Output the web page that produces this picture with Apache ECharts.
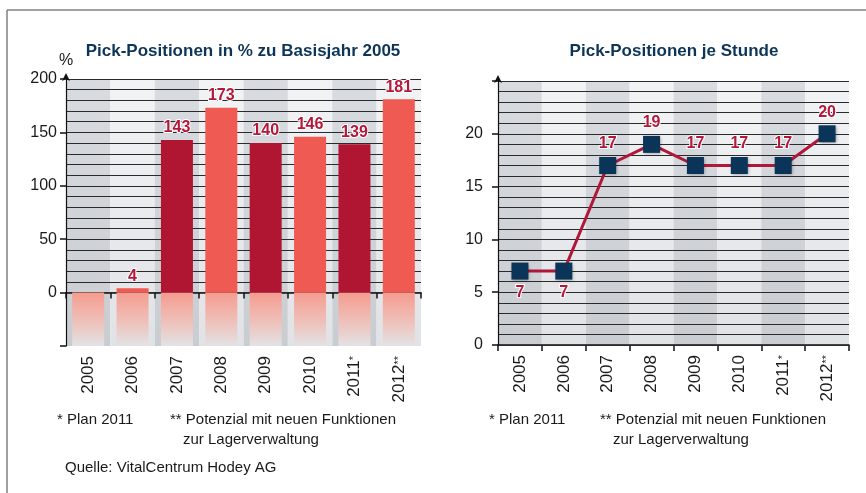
<!DOCTYPE html>
<html>
<head>
<meta charset="utf-8">
<title>Pick-Positionen</title>
<script src="https://cdn.jsdelivr.net/npm/echarts@6/dist/echarts.min.js"></script>
<style>
  html, body { margin: 0; padding: 0; background: #fff; }
  #chart { width: 866px; height: 493px; }
</style>
</head>
<body>
<div id="chart"></div>
<script>
// Daten
const years = ['2005', '2006', '2007', '2008', '2009', '2010', '2011*', '2012**'];
const percentValues = [0, 4, 143, 173, 140, 146, 139, 181];
const perHourValues = [7, 7, 17, 19, 17, 17, 17, 20];

const leftTitle = 'Pick-Positionen in % zu Basisjahr 2005';
const rightTitle = 'Pick-Positionen je Stunde';

const navy = '#0d3557';
const darkRed = '#b01532';
const lightRed = '#ef5a52';
const labelRed = '#b3183a';
const noteFont = '15px "Liberation Sans", Arial, sans-serif';

const chart = echarts.init(document.getElementById('chart'));

// Spaltenhintergrund mit leichtem Verlauf
const band = (top, bottom) => new echarts.graphic.LinearGradient(0, 0, 0, 1, [
    { offset: 0, color: top },
    { offset: 1, color: bottom }
]);
const bands = [band('#d8dbdf', '#c9cdd2'), band('#f2f3f5', '#e0e2e5')];

// Jahreszahlen mit Sternchen
const yearLabel = (v) => {
    const m = v.match(/^(\d+)(\**)$/);
    return m[2] ? m[1] + '{s|' + m[2] + '}' : m[1];
};

const xAxisBase = (gridIndex) => ({
    type: 'category',
    gridIndex: gridIndex,
    data: years,
    boundaryGap: true,
    z: 0,
    axisLine: { lineStyle: { color: '#111', width: 1.5 } },
    axisTick: { show: true, interval: 0, length: 6, lineStyle: { color: '#111', width: 1.5 } },
    axisLabel: {
        interval: 0,
        rotate: 90,
        margin: 10,
        fontSize: 17,
        color: '#1a1a1a',
        formatter: yearLabel,
        rich: { s: { fontSize: 11, color: '#1a1a1a', verticalAlign: 'middle' } }
    },
    splitLine: { show: false },
    splitArea: { show: true, interval: 0, areaStyle: { color: bands } }
});

// Gitterlinien im Abstand von 10 bzw. 1, unterhalb von 0 ausgeblendet
const gridLineColors = (min, max, step) => {
    const colors = [];
    for (let v = min; v <= max; v += step) {
        colors.push(v < 0 ? 'rgba(0,0,0,0)' : '#2a2a2a');
    }
    return colors;
};

const valueAxisLine = {
    show: true,
    symbol: ['none', 'arrow'],
    symbolSize: [6, 8],
    symbolOffset: [0, 6],
    lineStyle: { color: '#111', width: 1.2 }
};

const option = {
    backgroundColor: '#fff',
    animation: false,
    textStyle: { fontFamily: 'Liberation Sans, Arial, sans-serif' },
    title: [
        {
            text: leftTitle,
            left: 238,
            top: 38,
            textAlign: 'center',
            textStyle: { color: navy, fontSize: 17, fontWeight: 'bold' }
        },
        {
            text: rightTitle,
            left: 669,
            top: 38,
            textAlign: 'center',
            textStyle: { color: navy, fontSize: 17, fontWeight: 'bold' }
        }
    ],
    grid: [
        { left: 66, right: 445, top: 79, bottom: 147 },
        { left: 498, right: 17, top: 81, bottom: 148 }
    ],
    xAxis: [xAxisBase(0), xAxisBase(1)],
    yAxis: [
        {
            type: 'value',
            gridIndex: 0,
            min: -50,
            max: 200,
            interval: 50,
            z: 2,
            name: '%',
            nameLocation: 'end',
            nameGap: 10,
            nameTextStyle: { color: '#1a1a1a', fontSize: 16, align: 'center' },
            axisLine: valueAxisLine,
            axisTick: { show: true, length: 6, lineStyle: { color: '#111', width: 1.5 } },
            axisLabel: {
                fontSize: 16,
                color: '#1a1a1a',
                margin: 9,
                formatter: (v) => (v < 0 ? '' : v)
            },
            splitLine: { show: false }
        },
        {
            type: 'value',
            gridIndex: 0,
            position: 'left',
            min: -50,
            max: 200,
            interval: 10,
            z: 1,
            axisLine: { show: false },
            axisTick: { show: false },
            axisLabel: { show: false },
            splitLine: { show: true, lineStyle: { color: gridLineColors(-50, 200, 10), width: 1 } }
        },
        {
            type: 'value',
            gridIndex: 1,
            min: 0,
            max: 25,
            interval: 5,
            z: 2,
            axisLine: valueAxisLine,
            axisTick: { show: true, length: 6, lineStyle: { color: '#111', width: 1.5 } },
            axisLabel: {
                fontSize: 16,
                color: '#1a1a1a',
                margin: 15,
                formatter: (v) => (v >= 25 ? '' : v)
            },
            splitLine: { show: false }
        },
        {
            type: 'value',
            gridIndex: 1,
            position: 'left',
            min: 0,
            max: 25,
            interval: 1,
            z: 1,
            axisLine: { show: false },
            axisTick: { show: false },
            axisLabel: { show: false },
            splitLine: { show: true, lineStyle: { color: '#2a2a2a', width: 1 } }
        }
    ],
    series: [
        {
            name: 'Pick-Positionen %',
            type: 'bar',
            xAxisIndex: 0,
            yAxisIndex: 0,
            stack: 'pct',
            barWidth: 32,
            data: percentValues.map((v, i) => ({
                value: v,
                itemStyle: { color: i % 2 === 0 ? darkRed : lightRed }
            })),
            label: {
                show: true,
                position: 'top',
                distance: 4,
                color: labelRed,
                fontSize: 16,
                fontWeight: 'bold',
                textBorderColor: '#fff',
                textBorderWidth: 2,
                formatter: (p) => (p.value > 0 ? p.value : '')
            },
            z: 3
        },
        {
            // Spiegelung unterhalb der Nulllinie
            name: 'Spiegelung',
            type: 'bar',
            xAxisIndex: 0,
            yAxisIndex: 0,
            stack: 'pct',
            barWidth: 32,
            silent: true,
            data: years.map(() => -50),
            itemStyle: {
                color: new echarts.graphic.LinearGradient(0, 0, 0, 1, [
                    { offset: 0, color: '#f59c8f' },
                    { offset: 0.55, color: '#eec1ba' },
                    { offset: 1, color: '#e2e3e5' }
                ])
            },
            z: 2
        },
        {
            name: 'Pick-Positionen je Stunde',
            type: 'line',
            xAxisIndex: 1,
            yAxisIndex: 2,
            data: perHourValues.map((v, i) => ({
                value: v,
                label: { position: i < 2 ? 'bottom' : 'top' }
            })),
            symbol: 'rect',
            symbolSize: 17,
            itemStyle: {
                color: '#0b3459',
                shadowColor: 'rgba(0,0,0,0.35)',
                shadowBlur: 3,
                shadowOffsetX: 1,
                shadowOffsetY: 1
            },
            lineStyle: { color: '#b0183a', width: 3 },
            label: {
                show: true,
                distance: 5,
                color: labelRed,
                fontSize: 16,
                fontWeight: 'bold',
                textBorderColor: '#fff',
                textBorderWidth: 2
            },
            z: 4
        }
    ],
    graphic: [
        // Rahmen
        { type: 'line', shape: { x1: 7, y1: 10, x2: 866, y2: 10 }, style: { stroke: '#808080', lineWidth: 1.5 } },
        { type: 'line', shape: { x1: 7, y1: 10, x2: 7, y2: 493 }, style: { stroke: '#808080', lineWidth: 1.5 } },
        // Fußnoten
        { type: 'text', left: 57, top: 412, style: { text: '* Plan 2011', font: noteFont, fill: '#1a1a1a' } },
        { type: 'text', left: 170, top: 412, style: { text: '** Potenzial mit neuen Funktionen', font: noteFont, fill: '#1a1a1a' } },
        { type: 'text', left: 183, top: 432, style: { text: 'zur Lagerverwaltung', font: noteFont, fill: '#1a1a1a' } },
        { type: 'text', left: 65, top: 460, style: { text: 'Quelle: VitalCentrum Hodey AG', font: noteFont, fill: '#1a1a1a' } },
        { type: 'text', left: 489, top: 412, style: { text: '* Plan 2011', font: noteFont, fill: '#1a1a1a' } },
        { type: 'text', left: 600, top: 412, style: { text: '** Potenzial mit neuen Funktionen', font: noteFont, fill: '#1a1a1a' } },
        { type: 'text', left: 613, top: 432, style: { text: 'zur Lagerverwaltung', font: noteFont, fill: '#1a1a1a' } }
    ]
};

chart.setOption(option);
window.addEventListener('resize', chart.resize);
</script>
</body>
</html>
